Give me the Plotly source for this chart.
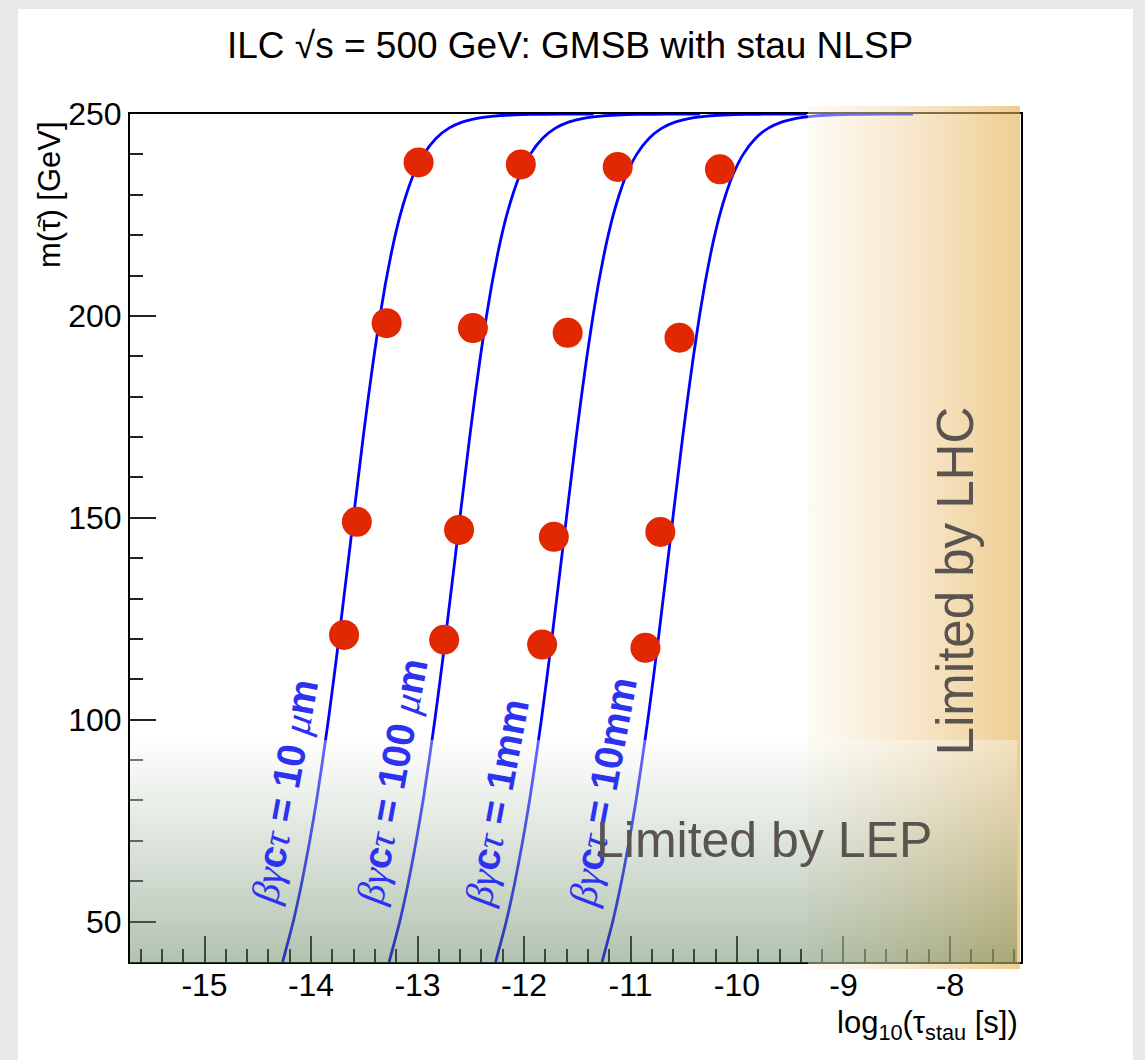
import plotly.graph_objects as go

# ---------------- data ----------------
stau_mass = [40, 50, 60, 70, 80, 90, 100, 110, 120, 130, 140, 150, 160, 170, 180, 190,
             200, 208, 215, 220, 225, 230, 235, 240, 244, 246.5, 248, 249, 249.5,
             249.75, 249.9, 249.97, 249.99, 250]

log_tau_10um = [-14.267, -14.167, -14.084, -14.012, -13.948, -13.891, -13.837, -13.787,
                -13.739, -13.693, -13.647, -13.602, -13.556, -13.510, -13.461, -13.409,
                -13.352, -13.301, -13.250, -13.209, -13.162, -13.106, -13.037, -12.942,
                -12.825, -12.705, -12.582, -12.430, -12.279, -12.128, -11.929, -11.667,
                -11.429, -11.347]
log_tau_100um = [-13.267, -13.167, -13.084, -13.012, -12.948, -12.891, -12.837, -12.787,
                 -12.739, -12.693, -12.647, -12.602, -12.556, -12.510, -12.461, -12.409,
                 -12.352, -12.301, -12.250, -12.209, -12.162, -12.106, -12.037, -11.942,
                 -11.825, -11.705, -11.582, -11.430, -11.279, -11.128, -10.929, -10.667,
                 -10.429, -10.347]
log_tau_1mm = [-12.267, -12.167, -12.084, -12.012, -11.948, -11.891, -11.837, -11.787,
               -11.739, -11.693, -11.647, -11.602, -11.556, -11.510, -11.461, -11.409,
               -11.352, -11.301, -11.250, -11.209, -11.162, -11.106, -11.037, -10.942,
               -10.825, -10.705, -10.582, -10.430, -10.279, -10.128, -9.929, -9.667,
               -9.429, -9.347]
log_tau_10mm = [-11.267, -11.167, -11.084, -11.012, -10.948, -10.891, -10.837, -10.787,
                -10.739, -10.693, -10.647, -10.602, -10.556, -10.510, -10.461, -10.409,
                -10.352, -10.301, -10.250, -10.209, -10.162, -10.106, -10.037, -9.942,
                -9.825, -9.705, -9.582, -9.430, -9.279, -9.128, -8.929, -8.667,
                -8.429, -8.347]
curves = [log_tau_10um, log_tau_100um, log_tau_1mm, log_tau_10mm]

GREEK = "<span style='font-family:Liberation Serif, Times New Roman, serif'><i>%s</i></span>"
curve_label_text = [
    GREEK % "βγ" + "<b>c</b>" + GREEK % "τ" + "<b> = 10 </b>" + GREEK % "μ" + "<b>m</b>",
    GREEK % "βγ" + "<b>c</b>" + GREEK % "τ" + "<b> = 100 </b>" + GREEK % "μ" + "<b>m</b>",
    GREEK % "βγ" + "<b>c</b>" + GREEK % "τ" + "<b> = 1mm</b>",
    GREEK % "βγ" + "<b>c</b>" + GREEK % "τ" + "<b> = 10mm</b>",
]
curve_label_x = [-14.248, -13.238, -12.256, -11.260]
curve_label_y = [82.2, 84.6, 79.5, 82.2]

point_log_tau = [-12.99, -12.03, -11.12, -10.16,
                 -13.29, -12.48, -11.59, -10.54,
                 -13.57, -12.61, -11.72, -10.72,
                 -13.69, -12.75, -11.83, -10.86]
point_mass = [238.0, 237.5, 236.9, 236.3,
              198.2, 197.0, 195.8, 194.6,
              149.0, 147.0, 145.3, 146.5,
              121.0, 119.8, 118.6, 117.8]

x_tick_vals = [-15, -14, -13, -12, -11, -10, -9, -8]
x_tick_text = ["-15", "-14", "-13", "-12", "-11", "-10", "-9", "-8"]
y_tick_vals = [50, 100, 150, 200, 250]
y_tick_text = ["50", "100", "150", "200", "250"]

x_range = [-15.70, -7.333]
y_range = [40, 250]

# ---------------- figure ----------------
W, H = 1145, 1060
ML, MR, MT, MB = 130, 124, 106, 91
PW, PH = W - ML - MR, H - MT - MB


def px_x(p):
    return (p - ML) / PW


def px_y(p):
    return (H - MB - p) / PH


FONT = "Liberation Sans, Arial, Helvetica, sans-serif"
BLUE = "#0000ff"

fig = go.Figure()

for xs in curves:
    fig.add_trace(go.Scatter(x=xs, y=stau_mass, mode="lines",
                             line=dict(color=BLUE, width=2.8, shape="spline", smoothing=0.6),
                             hoverinfo="skip", showlegend=False, xaxis="x", yaxis="y"))

fig.add_trace(go.Scatter(x=point_log_tau, y=point_mass, mode="markers",
                         marker=dict(color="#e12800", size=30, line=dict(width=0)),
                         showlegend=False, xaxis="x", yaxis="y"))

# LHC (orange) band - separate overlay subplot so it can reach slightly outside the frame
fig.add_trace(go.Scatter(x=[0, 1, 1, 0, 0], y=[0, 0, 1, 1, 0], mode="lines", fill="toself",
                         line=dict(width=0, color="rgba(0,0,0,0)"),
                         fillgradient=dict(type="horizontal",
                                           colorscale=[[0, "rgba(252,244,232,0.45)"],
                                                       [1, "rgba(228,172,72,0.6)"]]),
                         hoverinfo="skip", showlegend=False, xaxis="x2", yaxis="y2"))

# LEP (grey-green) band
fig.add_trace(go.Scatter(x=[0, 1, 1, 0, 0], y=[0, 0, 1, 1, 0], mode="lines", fill="toself",
                         line=dict(width=0, color="rgba(0,0,0,0)"),
                         fillgradient=dict(type="vertical",
                                           colorscale=[[0, "rgba(84,120,80,0.45)"],
                                                       [1, "rgba(250,252,250,0.4)"]]),
                         hoverinfo="skip", showlegend=False, xaxis="x3", yaxis="y3"))

annotations = []
for txt, lx, ly in zip(curve_label_text, curve_label_x, curve_label_y):
    annotations.append(dict(x=lx, y=ly, xref="x", yref="y", text=txt, showarrow=False,
                            textangle=-79.5,
                            font=dict(family=FONT, size=39.5, color="rgb(45,50,240)"),
                            xanchor="center", yanchor="middle"))

annotations += [
    dict(x=-9.748, y=70.3, xref="x", yref="y", text="Limited by LEP", showarrow=False,
         font=dict(family=FONT, size=50, color="#5a5450"), xanchor="center", yanchor="middle"),
    dict(x=-7.953, y=134.5, xref="x", yref="y", text="Limited by LHC", showarrow=False,
         textangle=-90, font=dict(family=FONT, size=51, color="#5a5450"),
         xanchor="center", yanchor="middle"),
    dict(x=px_x(570), y=px_y(45), xref="paper", yref="paper",
         text="ILC √s = 500 GeV: GMSB with stau NLSP", showarrow=False,
         font=dict(family=FONT, size=37, color="black"), xanchor="center", yanchor="middle"),
    # y-axis title (tilde drawn separately over the tau)
    dict(x=px_x(50), y=px_y(195), xref="paper", yref="paper", text="m(τ) [GeV]",
         showarrow=False, textangle=-90, font=dict(family=FONT, size=31, color="black"),
         xanchor="center", yanchor="middle"),
    dict(x=px_x(40), y=px_y(222), xref="paper", yref="paper", text="~",
         showarrow=False, textangle=-90, font=dict(family=FONT, size=22, color="black"),
         xanchor="center", yanchor="middle"),
    dict(x=px_x(1020), y=px_y(1003), xref="paper", yref="paper",
         text="log<sub>10</sub>(τ<sub>stau</sub> [s])", showarrow=False,
         font=dict(family=FONT, size=31, color="black"), xanchor="right", yanchor="top"),
]

shapes = [
    dict(type="rect", xref="paper", yref="paper", layer="below",
         x0=px_x(18), x1=px_x(1133), y0=px_y(1062), y1=px_y(9),
         fillcolor="white", line=dict(width=0)),
]

axis_common = dict(showgrid=False, zeroline=False, showline=True, linecolor="black",
                   linewidth=2, mirror=True, ticks="inside", tickcolor="#222",
                   tickwidth=2, ticklen=26, tickmode="array",
                   tickfont=dict(family=FONT, size=32, color="black"))

fig.update_layout(
    width=W, height=H, autosize=False,
    margin=dict(l=ML, r=MR, t=MT, b=MB, pad=0),
    paper_bgcolor="#e7eae7", plot_bgcolor="rgba(0,0,0,0)",
    showlegend=False,
    xaxis=dict(range=x_range, domain=[0, 1], anchor="y",
               tickvals=x_tick_vals, ticktext=x_tick_text, ticklabelstandoff=-6,
               minor=dict(tickmode="linear", tick0=-15, dtick=0.2, ticklen=13, ticks="inside",
                          tickcolor="#222", tickwidth=2),
               **axis_common),
    yaxis=dict(range=y_range, domain=[px_y(962), px_y(114)], anchor="x",
               tickvals=y_tick_vals, ticktext=y_tick_text,
               minor=dict(tickmode="linear", tick0=0, dtick=10, ticklen=13, ticks="inside",
                          tickcolor="#222", tickwidth=2),
               **axis_common),
    xaxis2=dict(domain=[px_x(808), px_x(1020)], range=[0, 1], anchor="y2", visible=False,
                fixedrange=True),
    yaxis2=dict(domain=[0, 1], range=[0, 1], anchor="x2", visible=False, fixedrange=True),
    xaxis3=dict(domain=[0, px_x(1017)], range=[0, 1], anchor="y3", visible=False,
                fixedrange=True),
    yaxis3=dict(domain=[px_y(963), px_y(740)], range=[0, 1], anchor="x3", visible=False,
                fixedrange=True),
    annotations=annotations,
    shapes=shapes,
)

fig.write_html("out.html")
